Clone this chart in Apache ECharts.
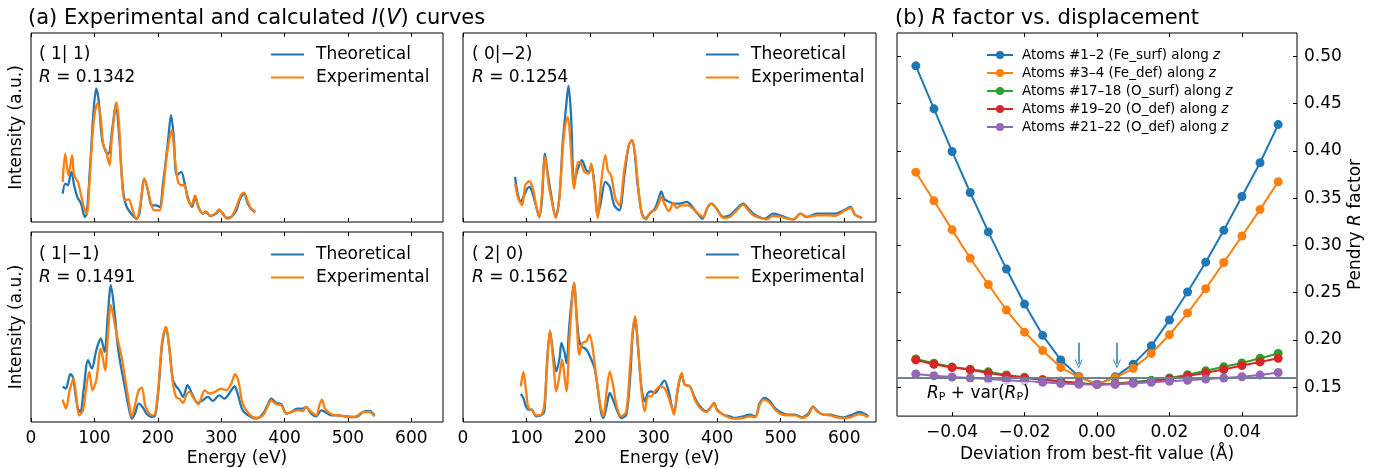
<!DOCTYPE html>
<html>
<head>
<meta charset="utf-8">
<script src="https://cdn.jsdelivr.net/npm/echarts@6/dist/echarts.min.js"></script>
<style>html,body{margin:0;padding:0;background:#fff}#main{width:1377px;height:468px}</style>
</head>
<body>
<div id="main"></div>
<script>
// I(V) curves, [energy (eV), intensity (a.u.)]
var theo11 = [[50,85],[54,115],[58,110],[62,140],[64,150],[68,110],[73,75],[79,55],[85,15],[88,25],[94,190],[99,340],[103,400],[107,360],[112,250],[118,210],[122,205],[129,290],[134,355],[139,260],[145,100],[150,50],[158,25],[166,10],[171,25],[179,130],[185,90],[190,50],[197,50],[203,45],[208,110],[216,240],[221,320],[225,260],[230,140],[237,150],[243,110],[248,70],[254,45],[259,75],[264,45],[271,25],[276,30],[283,18],[292,25],[297,35],[303,25],[308,12],[316,15],[324,35],[330,70],[336,85],[342,55],[347,40],[354,30]];
var exp11 = [[50,120],[54,205],[59,140],[65,200],[68,140],[74,120],[79,80],[84,40],[88,25],[92,110],[97,260],[101,330],[105,355],[110,310],[114,230],[118,215],[124,170],[127,240],[132,330],[135,358],[139,290],[143,140],[148,65],[154,68],[159,45],[164,15],[167,8],[173,60],[179,130],[184,100],[190,50],[195,35],[203,35],[208,90],[215,210],[222,275],[227,190],[232,120],[237,110],[242,110],[247,70],[253,50],[259,80],[264,45],[271,25],[276,32],[283,18],[292,28],[297,38],[303,22],[310,10],[316,15],[324,45],[331,80],[336,88],[342,62],[347,40],[354,28]];
var theo02 = [[82,135],[86,85],[91,60],[96,80],[104,105],[108,95],[114,55],[120,15],[124,60],[129,205],[133,150],[138,90],[146,15],[152,80],[157,240],[162,340],[166,408],[170,320],[175,120],[181,160],[187,185],[194,155],[198,150],[202,170],[207,110],[212,20],[217,60],[224,120],[231,105],[238,50],[246,35],[254,140],[261,230],[266,245],[270,210],[275,110],[281,30],[287,10],[294,25],[302,40],[307,65],[312,92],[317,68],[325,60],[333,55],[341,55],[352,60],[360,48],[367,30],[377,10],[384,40],[391,55],[399,40],[410,15],[420,20],[431,40],[441,55],[449,40],[457,25],[466,15],[475,10],[488,25],[499,20],[510,12],[520,8],[531,25],[541,15],[557,25],[573,25],[586,25],[599,35],[610,45],[617,22],[628,12]];
var exp02 = [[82,115],[87,70],[93,50],[98,110],[104,122],[110,100],[115,50],[120,15],[124,80],[129,195],[135,110],[140,60],[146,12],[152,80],[157,220],[161,290],[165,315],[169,240],[175,100],[181,180],[186,175],[191,150],[198,145],[202,175],[207,100],[212,12],[217,110],[224,200],[228,155],[233,140],[240,70],[246,50],[254,160],[261,230],[266,245],[271,200],[276,100],[282,20],[288,8],[295,30],[302,35],[307,50],[312,75],[317,55],[324,32],[331,57],[336,42],[344,50],[354,50],[362,40],[370,25],[378,15],[386,48],[392,55],[399,40],[410,12],[420,15],[431,35],[441,52],[449,35],[457,20],[467,12],[478,8],[488,18],[499,16],[510,10],[520,7],[531,25],[541,15],[557,20],[573,20],[586,18],[599,32],[610,42],[617,22],[628,12]];
var theo1m1 = [[50,107],[55,100],[62,143],[66,135],[70,85],[74,40],[78,30],[83,95],[90,185],[96,160],[103,215],[110,250],[116,210],[121,315],[126,410],[132,325],[137,225],[142,165],[148,105],[154,45],[159,10],[164,25],[170,55],[176,45],[183,23],[190,15],[196,20],[201,95],[207,235],[213,283],[218,225],[224,125],[229,107],[234,95],[240,75],[247,110],[254,85],[263,57],[271,65],[279,75],[287,63],[297,80],[305,70],[316,95],[321,107],[326,85],[334,35],[345,17],[355,10],[366,25],[373,50],[379,70],[387,57],[395,53],[403,25],[411,30],[420,40],[429,40],[434,45],[442,25],[450,17],[458,35],[464,30],[474,20],[484,20],[495,17],[505,15],[513,15],[524,30],[534,33],[542,20]];
var exp1m1 = [[50,67],[55,40],[61,95],[67,130],[71,85],[76,20],[82,35],[88,115],[92,150],[97,95],[103,125],[110,220],[113,195],[117,155],[121,250],[126,350],[132,295],[137,245],[143,195],[148,135],[154,65],[159,15],[164,50],[170,95],[175,103],[180,50],[185,30],[191,20],[196,25],[201,105],[207,245],[213,285],[218,225],[224,115],[229,75],[234,70],[240,57],[245,80],[250,90],[257,70],[264,53],[274,95],[282,85],[290,90],[300,100],[308,95],[316,115],[322,143],[327,125],[334,55],[345,22],[355,12],[366,20],[373,45],[379,65],[387,53],[395,50],[403,25],[411,30],[420,35],[429,33],[434,45],[442,30],[450,20],[455,50],[459,67],[464,40],[474,23],[484,20],[495,17],[505,15],[513,17],[524,30],[534,30],[542,17]];
var theo20 = [[91,84],[95,72],[99,47],[103,37],[108,37],[115,17],[123,20],[128,32],[132,172],[137,272],[142,202],[147,152],[152,192],[155,237],[160,207],[163,177],[167,282],[172,382],[175,417],[178,342],[182,252],[186,227],[191,222],[196,212],[202,187],[207,162],[212,102],[217,32],[221,12],[226,47],[231,87],[236,67],[242,37],[249,12],[257,22],[263,132],[267,262],[271,312],[275,232],[281,102],[286,62],[291,87],[296,92],[302,87],[310,107],[317,124],[323,97],[328,52],[332,27],[338,97],[344,142],[349,112],[357,107],[365,72],[373,47],[383,32],[391,47],[395,57],[400,37],[410,22],[420,17],[428,12],[441,17],[452,22],[460,17],[467,57],[475,72],[483,62],[491,42],[502,27],[512,22],[523,22],[533,14],[544,27],[551,47],[557,34],[567,22],[578,22],[588,17],[599,14],[610,20],[624,30],[638,17]];
var exp20 = [[91,107],[95,150],[99,97],[103,42],[108,37],[115,20],[123,22],[128,52],[132,162],[137,274],[142,182],[147,92],[152,142],[156,187],[160,132],[163,92],[167,232],[172,372],[175,417],[179,302],[183,202],[188,237],[194,242],[199,262],[204,222],[210,132],[216,52],[221,17],[226,92],[231,152],[236,112],[242,47],[249,17],[257,32],[263,172],[267,272],[271,317],[275,242],[281,92],[286,32],[291,77],[296,77],[302,92],[310,107],[317,102],[323,77],[328,47],[332,22],[338,102],[344,147],[349,112],[357,107],[365,67],[373,42],[383,30],[391,47],[395,57],[400,34],[410,22],[420,12],[428,10],[441,12],[452,17],[460,14],[467,52],[473,67],[483,57],[491,37],[502,22],[512,20],[523,20],[533,12],[544,22],[551,47],[557,32],[567,22],[578,20],[588,14],[599,12],[610,14],[624,24],[638,14]];

var beams = ['( 1| 1)', '( 0|\u22122)', '( 1|\u22121)', '( 2| 0)'];
var rValues = ['0.1342', '0.1254', '0.1491', '0.1562'];
var energyTicks = [0, 100, 200, 300, 400, 500, 600];

// R factor vs displacement
var deviation = [-0.05,-0.045,-0.04,-0.035,-0.03,-0.025,-0.02,-0.015,-0.01,-0.005,0,0.005,0.01,0.015,0.02,0.025,0.03,0.035,0.04,0.045,0.05];
var rFeSurf = [0.490,0.4445,0.3994,0.356,0.3143,0.275,0.238,0.2049,0.1789,0.1615,0.153,0.161,0.1744,0.1938,0.2212,0.2507,0.2823,0.316,0.3518,0.3875,0.4278];
var rFeDef = [0.3775,0.3473,0.3165,0.2865,0.2587,0.2317,0.2083,0.1889,0.1708,0.1608,0.153,0.160,0.170,0.1858,0.2056,0.2285,0.2542,0.282,0.310,0.3379,0.3674];
var rOSurf = [0.1799,0.1754,0.1715,0.1691,0.1663,0.163,0.1605,0.158,0.1563,0.1545,0.153,0.1539,0.1556,0.1573,0.1598,0.1632,0.1674,0.1716,0.1757,0.1806,0.1858];
var rODef1 = [0.1789,0.1744,0.1708,0.1684,0.165,0.1622,0.1598,0.158,0.1563,0.1539,0.153,0.1535,0.1545,0.1563,0.1587,0.1618,0.1653,0.1688,0.173,0.1768,0.1806];
var rODef2 = [0.164,0.1622,0.1608,0.1598,0.1587,0.1573,0.1563,0.1552,0.1539,0.1531,0.153,0.1531,0.1542,0.1552,0.1563,0.1573,0.1587,0.1598,0.1611,0.1629,0.1656];
var rNames = ['Atoms #1\u20132 (Fe_surf) along z','Atoms #3\u20134 (Fe_def) along z','Atoms #17\u201318 (O_surf) along z','Atoms #19\u201320 (O_def) along z','Atoms #21\u201322 (O_def) along z'];
var rThreshold = 0.1615;
var arrowX = [-0.00505, 0.0055];
var devTicks = [-0.04, -0.02, 0, 0.02, 0.04];
var rTicks = [0.15, 0.2, 0.25, 0.3, 0.35, 0.4, 0.45, 0.5];

var font = 'DejaVu Sans';
var fs = 17;
var colors = ['#1f77b4', '#ff7f0e', '#2ca02c', '#d62728', '#9467bd'];
var myChart = echarts.init(document.getElementById('main'));

var gridPos = [[31,33,412,189],[463,33,413,189],[31,232,412,190],[463,232,413,190],[897,33,400,389]];
var intensityMax = [566, 566, 569, 570];
var curves = [[theo11, exp11], [theo02, exp02], [theo1m1, exp1m1], [theo20, exp20]];
var legendPos = [[265,41],[700,41],[265,241],[700,241]];
var labelPos = [[34,38],[467,38],[34,238],[467,238]];

var grid = gridPos.map(function (g) {
	return {left: g[0], top: g[1], width: g[2], height: g[3], show: true, borderColor: '#000', borderWidth: 1, backgroundColor: 'transparent'};
});

function tickAxis(extra) {
	var base = {
		type: 'value', axisLine: {show: false, onZero: false}, splitLine: {show: false},
		axisTick: {show: true, inside: true, length: 4, lineStyle: {color: '#000', width: 1}},
		axisLabel: {show: false}
	};
	return Object.assign(base, extra);
}
function ticks(vals) {
	return {show: true, inside: true, length: 4, customValues: vals, lineStyle: {color: '#000', width: 1}};
}
var txt = {fontSize: fs, color: '#000', fontFamily: font};

var xAxis = [], yAxis = [], series = [], legend = [], title = [];
for (var i = 0; i < 4; i++) {
	var labelled = i >= 2;
	xAxis.push(tickAxis({
		gridIndex: i, min: 0, max: 650, position: 'bottom',
		axisTick: ticks(energyTicks),
		axisLabel: {show: labelled, customValues: energyTicks, fontSize: fs, color: '#000', fontFamily: font, margin: 8},
		name: labelled ? 'Energy (eV)' : '', nameLocation: 'middle', nameGap: 28, nameTextStyle: txt
	}));
	xAxis.push(tickAxis({gridIndex: i, min: 0, max: 650, position: 'top', axisTick: ticks(energyTicks)}));
	yAxis.push({
		gridIndex: i, type: 'value', min: 0, max: intensityMax[i],
		axisLine: {show: false, onZero: false}, axisTick: {show: false}, axisLabel: {show: false}, splitLine: {show: false},
		name: (i % 2 === 0) ? 'Intensity (a.u.)' : '', nameLocation: 'middle', nameGap: 6, nameRotate: 90,
		nameTextStyle: txt
	});
	['Theoretical', 'Experimental'].forEach(function (nm, k) {
		series.push({
			name: nm, type: 'line', xAxisIndex: 2 * i, yAxisIndex: i,
			data: curves[i][k], symbol: 'none', smooth: 0.3,
			lineStyle: {color: colors[k], width: 2.3}, itemStyle: {color: colors[k]}
		});
	});
	legend.push({
		data: ['Theoretical', 'Experimental'], orient: 'vertical',
		left: legendPos[i][0], top: legendPos[i][1], itemWidth: 33, itemHeight: 14, itemGap: 6,
		itemStyle: {opacity: 0},
		textStyle: {fontSize: fs, color: '#000', fontFamily: font, padding: [0, 0, 0, 7]}
	});
	title.push({
		text: beams[i] + '\n{i|R} = ' + rValues[i], left: labelPos[i][0], top: labelPos[i][1],
		textStyle: {fontSize: fs, fontWeight: 'normal', color: '#000', fontFamily: font, lineHeight: 23,
			rich: {i: {fontStyle: 'italic', fontSize: fs, fontFamily: font, lineHeight: 23}}}
	});
}

function devFmt(v) {
	var s = Math.abs(v).toFixed(2);
	return v < -1e-9 ? '\u2212' + s : s;
}
xAxis.push(tickAxis({
	gridIndex: 4, min: -0.0552, max: 0.0552, position: 'bottom',
	axisTick: ticks(devTicks),
	axisLabel: {show: true, customValues: devTicks, fontSize: fs, color: '#000', fontFamily: font, margin: 8, formatter: devFmt},
	name: 'Deviation from best-fit value (\u00c5)', nameLocation: 'middle', nameGap: 29, nameTextStyle: txt
}));
xAxis.push(tickAxis({gridIndex: 4, min: -0.0552, max: 0.0552, position: 'top', axisTick: ticks(devTicks)}));
yAxis.push(tickAxis({
	gridIndex: 4, min: 0.1195, max: 0.5247, position: 'right',
	axisTick: ticks(rTicks),
	axisLabel: {show: true, customValues: rTicks, fontSize: fs, color: '#000', fontFamily: font, margin: 7,
		formatter: function (v) { return v.toFixed(2); }},
	name: 'Pendry {i|R} factor', nameLocation: 'middle', nameGap: 50, nameRotate: 90,
	nameTextStyle: {fontSize: fs, color: '#000', fontFamily: font,
		rich: {i: {fontStyle: 'italic', fontSize: fs, fontFamily: font}}}
}));
yAxis.push(tickAxis({gridIndex: 4, min: 0.1195, max: 0.5247, position: 'left', axisTick: ticks(rTicks)}));

var rSeries = [rFeSurf, rFeDef, rOSurf, rODef1, rODef2];
rSeries.forEach(function (vals, k) {
	var s = {
		name: rNames[k], type: 'line', xAxisIndex: 8, yAxisIndex: 4,
		data: deviation.map(function (d, j) { return [d, vals[j]]; }),
		symbol: 'circle', symbolSize: 9, showSymbol: true,
		lineStyle: {color: colors[k], width: 2}, itemStyle: {color: colors[k]}
	};
	if (k === 0) {
		s.markLine = {
			silent: true, symbol: ['none', 'path://M0,10 L5,0 L10,10 L8.8,10 L5,2.4 L1.2,10 Z'], symbolSize: [8, 9],
			label: {show: false}, lineStyle: {color: colors[0], width: 1.5, type: 'solid'},
			data: arrowX.map(function (x) { return [{coord: [x, 0.197]}, {coord: [x, 0.1745]}]; })
		};
	}
	if (k === 2) {
		s.markLine = {
			silent: true, symbol: 'none', label: {show: false},
			lineStyle: {color: '#708090', width: 2, type: 'solid'},
			data: [{yAxis: rThreshold}]
		};
	}
	series.push(s);
});

legend.push({
	data: rNames, orient: 'vertical', left: 981, top: 43, itemWidth: 26, itemHeight: 10, itemGap: 4,
	textStyle: {fontSize: 13.5, color: '#000', fontFamily: font, padding: [0, 0, 0, 4],
		rich: {i: {fontStyle: 'italic', fontSize: 13.5, fontFamily: font}}},
	formatter: function (n) { return n.replace(/ z$/, ' {i|z}'); }
});

var titleStyle = {fontSize: 21, fontWeight: 'normal', color: '#000', fontFamily: font,
	rich: {i: {fontStyle: 'italic', fontSize: 21, fontFamily: font}}};
title.push({text: '(a) Experimental and calculated {i|I}({i|V}) curves', left: 23, top: 3, textStyle: titleStyle});
title.push({text: '(b) {i|R} factor vs. displacement', left: 890, top: 3, textStyle: titleStyle});

var option = {
	animation: false,
	backgroundColor: '#fff',
	title: title,
	grid: grid,
	xAxis: xAxis,
	yAxis: yAxis,
	legend: legend,
	series: series,
	graphic: [{
		type: 'text', left: 922, top: 382, z: 100,
		style: {
			text: '{i|R}{s|P} + var({i|R}{s|P})', fill: '#000',
			fontSize: fs, fontFamily: font,
			backgroundColor: 'rgba(255,255,255,0.6)', padding: [3, 5, 3, 5],
			rich: {
				i: {fontStyle: 'italic', fontSize: fs, fontFamily: font},
				s: {fontSize: 11, fontFamily: font, padding: [7, 0, 0, 0]}
			}
		}
	}]
};
myChart.setOption(option);
</script>
</body>
</html>
